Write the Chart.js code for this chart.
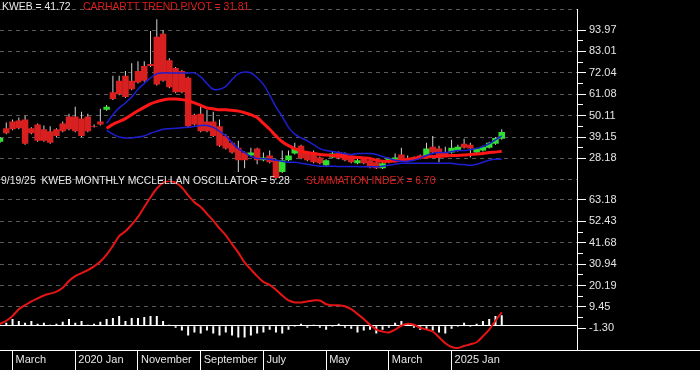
<!doctype html>
<html>
<head>
  <meta charset="utf-8" />
  <title>KWEB monthly</title>
  <script src="https://cdn.jsdelivr.net/npm/chart.js"></script>
  <style>
    body { margin: 0; background: #000; }
    #wrap { position: relative; width: 700px; height: 370px; background: #000; }
    .hdr { position: absolute; font-family: 'Liberation Sans', Arial, sans-serif; font-size: 10.4px; line-height: 12px; white-space: pre; }
    .w { color: #e8e8e8; }
    .r { color: #e01c1c; }
  </style>
</head>
<body>
<div id="wrap">
  <canvas id="chart" width="700" height="370"></canvas>
  <div class="hdr w" id="hPrice" style="left:2px; top:1px;"></div>
  <div class="hdr r" id="hPivot" style="left:83px; top:1px;"></div>
  <div class="hdr w" id="hOsc" style="left:1px; top:175px;"></div>
  <div class="hdr r" id="hSum" style="left:306px; top:175px;"></div>
</div>

<script>
  // 月足 2019年1月〜2025年9月 (81本)。x軸は先の月まで空けておく
  var monthNames = ['Jan','Feb','Mar','Apr','May','Jun','Jul','Aug','Sep','Oct','Nov','Dec'];
  var months = [];
  for (var k = 0; k < 93; k++) {
    months.push(monthNames[k % 12] + ' ' + (2019 + Math.floor(k / 12)));
  }

  // x軸の区切り位置と表示名
  var xTickIdx  = [2, 12, 22, 32, 42, 52, 62, 72];
  var xTickText = ['March', '2020 Jan', 'November', 'September', 'July', 'May', 'March', '2025 Jan'];

  var opens = [36.7,43.6,47.1,47.6,48.1,43.6,45.6,43.1,42.1,43.1, 46.1,49.6,49.6,48.6,49.6,44.8,47.1,53.1,62.1,68.0,
               70.5,68.0,73.0,75.5,76.5,90.5,92.0,78.5,74.5,73.0, 69.5,50.6,51.1,47.1,47.1,44.6,39.7,36.2,33.7,31.2,
               29.7,33.2,27.2,29.7,27.2,21.2,27.2,30.7,34.7,31.2, 31.2,28.7,24.7,28.7,31.2,30.7,28.7,25.7,28.2,27.2,
               26.2,23.2,26.2,26.7,30.2,28.2,27.7,29.7,28.7,34.2, 33.2,31.2,31.2,32.2,35.7,35.2,31.2,32.2,33.7,35.7,
               38.2];
  var closes = [38.7,41.1,43.1,43.6,35.7,41.1,37.2,37.2,36.2,39.7, 42.1,43.1,42.1,39.7,42.1,44.4,45.6,54.6,58.6,61.1,
                59.6,63.6,67.1,68.0,75.5,66.1,68.0,64.6,62.1,62.1, 44.6,45.6,42.1,42.1,39.7,34.7,33.2,31.2,27.2,27.2,
                31.2,27.2,28.7,26.2,18.2,27.2,29.7,33.2,28.2,27.2, 26.2,25.7,27.2,30.7,28.2,27.2,26.2,27.2,25.7,23.7,
                23.2,25.7,28.2,28.7,27.7,26.7,28.7,28.2,33.2,31.2, 29.7,29.7,33.7,34.2,33.7,33.2,33.2,34.2,36.2,38.7,
                41.72];
  var highs = [39.2,46.6,48.1,49.1,50.1,44.1,46.1,45.1,44.6,43.6, 47.1,51.1,54.6,52.1,51.1,45.6,53.6,55.5,70.5,70.5,
               73.0,77.0,78.0,78.0,93.5,99.5,94.0,79.5,75.0,73.5, 70.0,51.1,55.6,53.1,52.1,48.1,40.6,36.7,37.2,31.7,
               33.7,33.7,31.2,32.2,27.7,32.2,32.2,36.2,35.2,31.7, 32.2,29.2,27.7,31.7,31.7,31.2,29.2,28.2,28.7,27.7,
               26.7,26.2,28.7,30.7,33.7,29.7,29.2,30.2,36.2,39.7, 34.7,34.2,37.7,35.2,38.2,36.2,33.7,34.7,36.7,39.2,
               43.1];
  var lows = [36.2,40.6,42.6,43.1,35.2,40.6,36.7,36.7,35.7,39.2, 41.6,42.6,41.6,39.2,41.6,44.0,45.1,52.6,58.1,60.6,
              59.1,63.1,66.6,67.5,75.0,65.6,67.5,64.1,61.6,61.6, 44.1,45.1,41.6,41.6,39.2,34.2,32.7,30.7,21.2,23.2,
              29.2,25.2,26.7,25.7,17.2,20.7,26.7,30.2,27.7,26.7, 25.7,25.2,24.2,28.2,27.7,26.7,25.7,25.2,25.2,23.2,
              22.7,22.7,25.7,26.2,27.2,26.2,27.2,27.7,28.2,30.7, 26.2,29.2,30.7,31.7,33.2,28.7,30.7,31.7,33.2,35.2,
              37.7];

  var N = null;
  var upperBand = [N,N,N,N,N,N,N,N,N,N, N,N,N,N,N,N,N,46.1,50.6,54.1,
                   56.6,59.6,63.6,66.6,69.5,71.5,72.0,72.0,72.0,72.0, 72.0,72.0,70.0,66.6,63.6,63.6,65.1,68.6,71.5,72.5,
                   72.0,69.5,66.1,60.6,54.6,49.6,44.1,40.6,38.7,37.2, 35.2,33.2,32.2,31.7,31.2,30.7,30.2,30.7,30.7,30.7,
                   30.2,29.2,28.2,27.2,26.7,26.7,27.2,28.2,29.7,30.7, 31.2,31.2,31.7,32.2,32.2,32.7,33.2,34.2,35.7,37.7,
                   39.7];
  var lowerBand = [N,N,N,N,N,N,N,N,N,N, N,N,N,N,N,N,N,42.6,40.6,39.2,
                   38.7,38.7,39.2,39.7,41.1,42.1,43.1,43.4,43.6,43.9, 44.1,44.6,45.1,45.1,44.1,42.1,39.7,36.2,33.2,31.2,
                   29.2,28.2,28.0,27.7,27.2,26.7,26.2,26.2,25.7,25.2, 24.7,24.2,24.2,24.2,24.0,24.0,24.0,24.0,23.9,23.9,
                   23.9,24.2,24.7,25.2,25.7,25.7,25.7,25.7,25.7,25.7, 25.7,25.7,25.7,25.2,25.0,24.7,25.2,26.2,27.2,27.7,
                   27.7];
  var pivot = [N,N,N,N,N,N,N,N,N,N, N,N,N,N,N,N,N,43.6,45.6,47.1,
               48.6,50.6,52.6,54.4,56.1,57.3,58.1,58.6,58.6,58.3, 57.6,56.6,55.4,54.1,53.6,53.1,53.1,52.8,52.4,51.6,
               50.6,49.1,46.1,43.1,39.7,36.7,34.7,33.2,31.9,31.2, 30.7,30.2,29.9,29.7,29.7,29.2,29.0,28.7,28.4,28.2,
               27.2,26.7,26.7,26.9,27.2,27.7,28.2,28.7,28.9,29.2, 29.2,29.4,29.7,29.7,29.9,30.2,30.4,30.7,31.2,31.4,
               31.81];

  var summation = [1.0,2.5,4.9,8.3,10.3,12.2,13.7,15.2,16.1,17.1, 19.1,22.5,24.9,26.4,27.9,29.8,32.2,35.7,40.1,45.0,
                   47.4,50.8,54.7,59.6,64.5,68.9,71.8,72.8,71.8,69.4, 65.5,62.0,59.6,56.2,52.8,48.9,45.4,41.0,36.7,31.8,
                   28.3,24.9,22.0,20.5,18.1,15.2,12.7,11.7,11.7,12.2, 12.7,12.7,10.8,10.3,10.3,9.8,8.3,5.9,3.4,0.5,
                   -1.9,-2.9,-3.4,-1.9,0.0,1.0,0.5,-1.0,-1.9,-2.9, -5.8,-8.8,-10.7,-11.2,-10.2,-9.3,-8.3,-5.3,-1.9,2.5,
                   6.70];
  var oscillator = [0.5,1.5,3.4,2.4,1.5,2.4,1.0,1.5,0.5,1.0, 2.0,3.4,1.5,2.4,0.5,1.0,2.0,3.4,3.9,4.9,
                    2.4,3.9,3.9,4.4,4.9,4.9,2.4,0.5,-1.0,-2.4, -4.9,-3.4,-3.9,-2.4,-3.9,-4.9,-3.4,-4.9,-5.9,-5.9,
                    -4.9,-3.9,-3.4,-2.0,-3.4,-3.9,-2.0,-0.5,1.0,-1.0, 0.5,-1.0,-2.0,-0.5,1.0,-1.0,-1.5,-3.4,-2.4,-2.0,
                    -3.9,-2.0,-1.0,1.5,2.4,1.0,-1.0,-2.0,-2.0,-2.4, -3.4,-3.9,-1.5,-0.5,1.5,-0.5,1.0,2.4,3.4,4.9,
                    5.28];

  // 右軸の目盛り
  var priceTicks = [28.18, 39.15, 50.11, 61.08, 72.04, 83.01, 93.97];
  var priceMin = 16.72, priceMax = 104.44, priceFloorLine = 17.21;
  var oscTicks = [-1.30, 9.45, 20.19, 30.94, 41.68, 52.43, 63.18];
  var oscMin = -12.19, oscMax = 72.79;

  var last = closes.length - 1;
  document.getElementById('hPrice').textContent = 'KWEB = ' + closes[last].toFixed(2);
  document.getElementById('hPivot').textContent = 'CARHARTT TREND PIVOT = ' + pivot[last].toFixed(2);
  document.getElementById('hOsc').textContent = '9/19/25  KWEB MONTHLY MCCLELLAN OSCILLATOR = ' + oscillator[last].toFixed(2);
  document.getElementById('hSum').textContent = 'SUMMATION INDEX = ' + summation[last].toFixed(2);

  var bodies = opens.map((o, i) => [o, closes[i]]);
  var wicks = lows.map((l, i) => [l, highs[i]]);
  var isUp = i => closes[i] >= opens[i];

  function tickList(majors, extra) {
    var list = majors.map(v => ({ value: v, kind: 'major' }));
    for (var i = 0; i < majors.length - 1; i++) {
      if (extra.skipMinorAbove !== undefined && majors[i] >= extra.skipMinorAbove) continue;
      list.push({ value: (majors[i] + majors[i + 1]) / 2, kind: 'minor' });
    }
    (extra.edges || []).forEach(v => list.push({ value: v, kind: 'edge' }));
    (extra.zero || []).forEach(v => list.push({ value: v, kind: 'zero' }));
    return list.sort((a, b) => a.value - b.value);
  }

  var kindOf = ctx => (ctx.tick ? ctx.tick.kind : '');
  var gridColor = ctx => {
    var k = kindOf(ctx);
    if (k === 'zero') return '#ffffff';
    if (k === 'edge' || (k === 'major' && ctx.tick.value > 0)) return '#5a5a5a';
    return 'rgba(0,0,0,0)';
  };
  var tickColor = ctx => {
    var k = kindOf(ctx);
    return (k === 'major' || k === 'minor') ? '#ffffff' : 'rgba(0,0,0,0)';
  };
  var tickDash = ctx => (kindOf(ctx) === 'minor' ? [5, 40] : []);
  var gridDash = ctx => (kindOf(ctx) === 'zero' ? [] : [4, 4]);
  var tickLabel = (value, index, ticks) => (ticks[index].kind === 'major' ? value.toFixed(2) : '');

  // 右端の軸より右へ x軸の線を延ばす
  var baselinePlugin = {
    id: 'baseline',
    afterDraw(chart) {
      var c = chart.ctx, a = chart.chartArea;
      c.save();
      c.strokeStyle = '#ffffff';
      c.lineWidth = 1;
      c.beginPath();
      c.moveTo(a.right, Math.round(a.bottom) + 0.5);
      c.lineTo(chart.width, Math.round(a.bottom) + 0.5);
      c.stroke();
      c.restore();
    }
  };

  Chart.defaults.font.family = "'Liberation Sans', Arial, sans-serif";
  Chart.defaults.font.size = 11;

  new Chart(document.getElementById('chart'), {
    type: 'bar',
    data: {
      labels: months,
      datasets: [
        { type: 'line', label: 'upper', data: upperBand, yAxisID: 'y', borderColor: '#1e1ed2', borderWidth: 1.5, pointRadius: 0, tension: 0.35 },
        { type: 'line', label: 'lower', data: lowerBand, yAxisID: 'y', borderColor: '#1e1ed2', borderWidth: 1.5, pointRadius: 0, tension: 0.35 },
        { type: 'line', label: 'pivot', data: pivot, yAxisID: 'y', borderColor: '#ff1616', borderWidth: 3, pointRadius: 0, tension: 0.35 },
        { type: 'line', label: 'summation', data: summation, yAxisID: 'y2', borderColor: '#e61414', borderWidth: 2, pointRadius: 0, tension: 0.35 },
        {
          label: 'body', data: bodies, yAxisID: 'y', grouped: false,
          barThickness: 6.5, borderWidth: 0, inflateAmount: 0,
          backgroundColor: ctx => (isUp(ctx.dataIndex) ? '#30e030' : '#d82020')
        },
        { label: 'wick', data: wicks, yAxisID: 'y', grouped: false, barThickness: 1, inflateAmount: 0, borderWidth: 0, backgroundColor: '#d4d4d4' },
        { label: 'oscillator', data: oscillator, yAxisID: 'y2', grouped: false, barThickness: 2, inflateAmount: 0, borderWidth: 0, backgroundColor: '#ffffff' }
      ]
    },
    options: {
      responsive: false,
      animation: false,
      events: [],
      layout: { padding: 0 },
      plugins: { legend: { display: false }, tooltip: { enabled: false } },
      scales: {
        x: {
          type: 'category',
          offset: false,
          grid: { offset: false, drawOnChartArea: false, color: '#ffffff', tickColor: '#ffffff', tickLength: 20 },
          border: { color: '#ffffff', width: 1 },
          ticks: {
            autoSkip: false, maxRotation: 0, align: 'start', labelOffset: 3, padding: -17, color: '#e6e6e6',
            callback: value => xTickText[xTickIdx.indexOf(value)]
          },
          afterBuildTicks: s => { s.ticks = xTickIdx.map(v => ({ value: v })); },
          afterFit: s => { s.height = 20; }
        },
        y: {
          type: 'linear', position: 'right', stack: 'panels', stackWeight: 176,
          min: priceMin, max: priceMax,
          afterBuildTicks: s => { s.ticks = tickList(priceTicks, { edges: [priceFloorLine, priceMax] }); },
          afterFit: s => { s.width = 123; },
          grid: { color: gridColor, tickColor: tickColor, tickLength: 9, tickBorderDash: tickDash, lineWidth: 1 },
          border: { color: '#ffffff', width: 1, dash: gridDash },
          ticks: { autoSkip: false, padding: 3, color: '#e6e6e6', callback: tickLabel }
        },
        y2: {
          type: 'linear', position: 'right', stack: 'panels', stackWeight: 174,
          min: oscMin, max: oscMax,
          afterBuildTicks: s => { s.ticks = tickList(oscTicks, { zero: [0], skipMinorAbove: 52 }); },
          afterFit: s => { s.width = 123; },
          grid: { color: gridColor, tickColor: tickColor, tickLength: 9, tickBorderDash: tickDash, lineWidth: 1 },
          border: { color: '#ffffff', width: 1, dash: gridDash },
          ticks: { autoSkip: false, padding: 3, color: '#e6e6e6', callback: tickLabel }
        }
      }
    },
    plugins: [baselinePlugin]
  });
</script>
</body>
</html>
